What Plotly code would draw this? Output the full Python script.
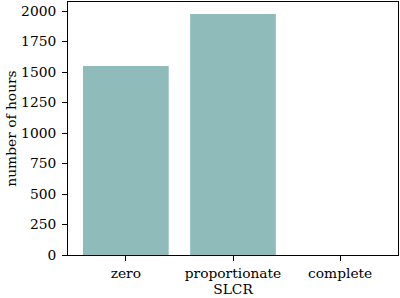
import plotly.graph_objects as go

categories = ["zero", "proportionate", "complete"]
hours = [1549, 1976, 0]
y_ticks = [0, 250, 500, 750, 1000, 1250, 1500, 1750, 2000]

font = dict(family="DejaVu Serif", size=13.8, color="black")

fig = go.Figure(go.Bar(x=[0, 1, 2], y=hours, width=0.8, marker=dict(color="#8FBCBB", line=dict(width=0))))

fig.update_layout(
    width=400, height=298,
    margin=dict(l=68, r=2, t=2, b=43),
    plot_bgcolor="white", paper_bgcolor="white",
    font=font, showlegend=False,
)
fig.update_xaxes(
    range=[-0.54, 2.54], tickvals=[0, 1, 2], ticktext=categories,
    showline=True, mirror=True, linecolor="black", linewidth=1,
    ticks="outside", ticklen=5, tickcolor="black", showgrid=False, zeroline=False,
    title=dict(text="SLCR", font=font, standoff=3),
)
fig.update_yaxes(
    range=[0, 2074], tickvals=y_ticks,
    showline=True, mirror=True, linecolor="black", linewidth=1,
    ticks="outside", ticklen=5, tickcolor="black", showgrid=False, zeroline=False,
    ticklabelstandoff=3,
    title=dict(text="number of hours", font=font, standoff=1),
)
fig.write_html(
    "out.html",
    config={"displayModeBar": False},
    post_script="document.body.style.margin='0';document.body.style.padding='0';",
)
